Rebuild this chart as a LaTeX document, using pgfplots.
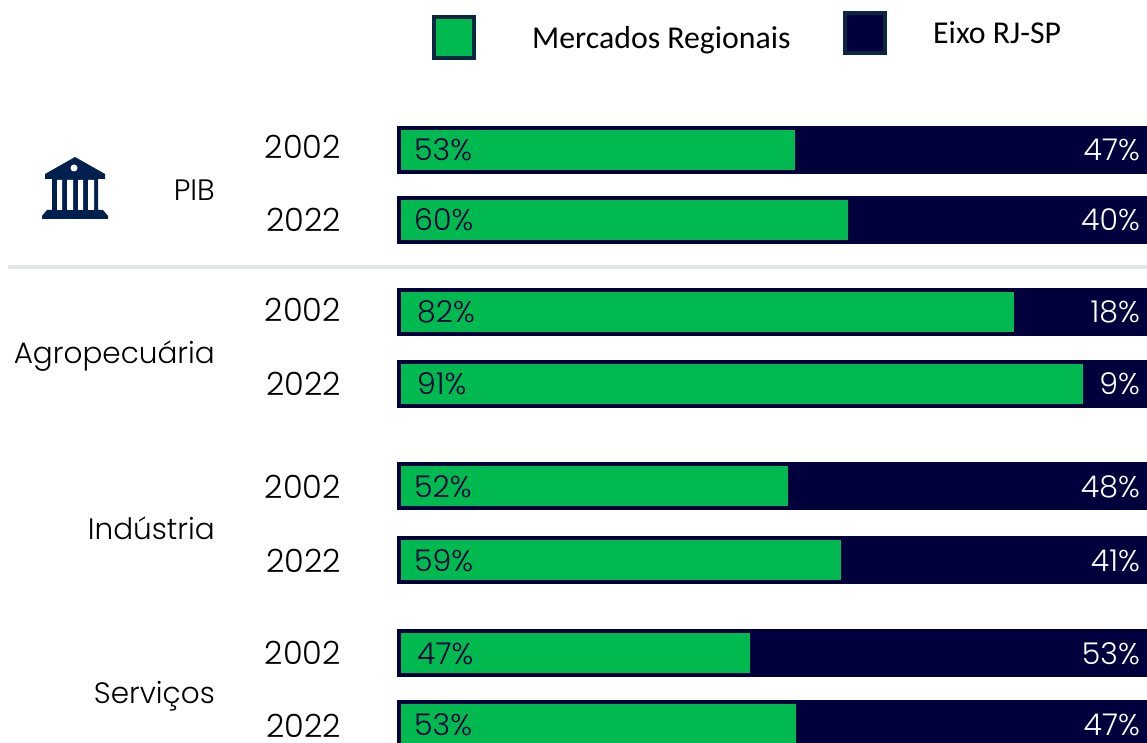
\documentclass[border=0pt]{standalone}
\usepackage{fontspec}
\setmainfont{Poppins Light}
\newfontfamily\legendfont{Carlito}
\usepackage{pgfplots}
\pgfplotsset{compat=1.18}
\definecolor{verde}{RGB}{0,186,80}
\definecolor{escuro}{RGB}{0,0,60}
\definecolor{borda}{RGB}{8,40,66}
\definecolor{icone}{RGB}{0,32,80}
\definecolor{linha}{RGB}{225,230,234}
% picture coordinates in reference pixels, measured from the top
\def\H{742}
\begin{document}
\begin{tikzpicture}
\path[use as bounding box] (0,0) rectangle (1147pt,742pt);
\begin{axis}[scale only axis,width=1147pt,height=742pt,hide axis,
  xbar stacked,bar width=44pt,
  xmin=-53.2,xmax=99.73,ymin=0,ymax=742,y dir=reverse,
  clip=true]
\addplot[fill=verde,draw=escuro,line width=4pt] coordinates
  {(53.1,150)(60.1,220)(82.2,312)(91.4,384)(52.1,486)(59.2,560)(47,653)(53.2,724)};
\addplot[fill=escuro,draw=escuro,line width=4pt] coordinates
  {(46.9,150)(39.9,220)(17.8,312)(8.6,384)(47.9,486)(40.8,560)(53,653)(46.8,724)};
\end{axis}
% everything below is in pixels: x, \H-y (y is the text baseline)
% share labels
\foreach \x/\y/\t in {414/161/53,414/231/60,417/323/82,417/395/91,414/497/52,414/571/59,417/664/47,414/735/53}
  \node[anchor=base west,inner sep=0pt,font=\fontsize{30}{30}\selectfont,text=escuro] at (\x pt,{(\H-\y)*1pt}) {\t\%};
\foreach \y/\t in {161/47,231/40,323/18,395/9,497/48,571/41,664/53,735/47}
  \node[anchor=base east,inner sep=0pt,font=\fontsize{30}{30}\selectfont,text=white] at (1140pt,{(\H-\y)*1pt}) {\t\%};
\foreach \y/\t in {159/2002,232/2022,322/2002,396/2022,498/2002,572/2022,664/2002,737/2022}
  \node[anchor=base east,inner sep=0pt,font=\fontsize{32}{32}\selectfont] at (341pt,{(\H-\y)*1pt}) {\t};
\foreach \y/\t in {201/PIB,364/Agropecuária,539/Indústria,703/Serviços}
  \node[anchor=base east,inner sep=0pt,font=\fontsize{29.5}{29.5}\selectfont] at (215pt,{(\H-\y)*1pt}) {\t};
% separator
\fill[linha] (8pt,{(\H-269)*1pt}) rectangle (1147pt,{(\H-265)*1pt});
% legend
\fill[borda] (432pt,{(\H-60)*1pt}) rectangle (476pt,{(\H-15)*1pt});
\fill[verde] (436pt,{(\H-56)*1pt}) rectangle (472pt,{(\H-19)*1pt});
\node[anchor=base west,inner sep=0pt,font=\legendfont\fontsize{31.8}{31.8}\selectfont] at (532pt,{(\H-49)*1pt}) {Mercados Regionais};
\fill[borda] (843pt,{(\H-55)*1pt}) rectangle (887pt,{(\H-11)*1pt});
\fill[escuro] (847pt,{(\H-51)*1pt}) rectangle (883pt,{(\H-15)*1pt});
\node[anchor=base west,inner sep=0pt,font=\legendfont\fontsize{31.8}{31.8}\selectfont] at (933pt,{(\H-44)*1pt}) {Eixo RJ-SP};
% building icon
\begin{scope}[x=1pt,y=-1pt,yshift=742pt]
\fill[icone] (75,157) -- (105,174) -- (105,179) -- (98,179) -- (98,210) -- (103,210) -- (108,216) -- (108,219)
  -- (42,219) -- (42,216) -- (47,210) -- (52,210) -- (52,179) -- (45,179) -- (45,174) -- cycle;
\fill[white] (57,180) rectangle (62,210) (67,180) rectangle (73,210) (78,180) rectangle (83,210) (88,180) rectangle (94,210);
\fill[white] (74,168) circle (3.5);
\end{scope}
\end{tikzpicture}
\end{document}
